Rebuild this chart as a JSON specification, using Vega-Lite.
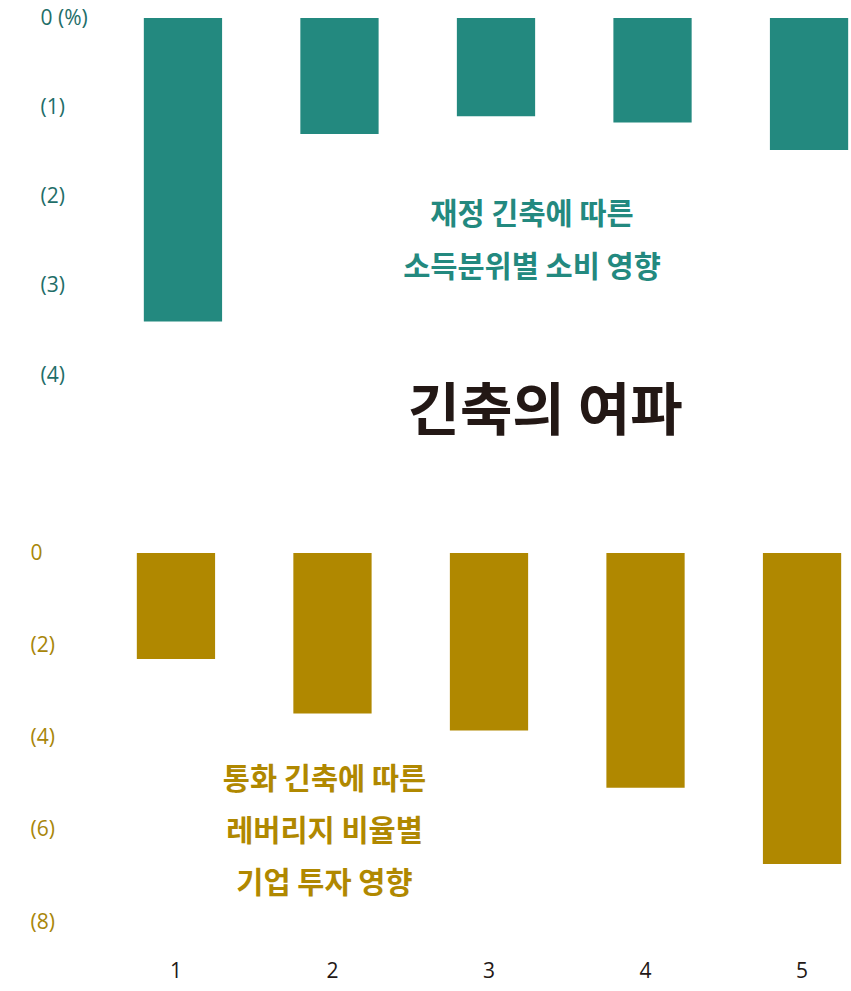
{
  "$schema": "https://vega.github.io/schema/vega-lite/v6.json",
  "background": "white",
  "padding": {"left": 30, "top": 7, "right": 0, "bottom": 10},
  "bounds": "flush",
  "spacing": 178,
  "datasets": {
    "fiscal": [
      {"quintile": "1", "change": -3.4},
      {"quintile": "2", "change": -1.3},
      {"quintile": "3", "change": -1.1},
      {"quintile": "4", "change": -1.17},
      {"quintile": "5", "change": -1.48}
    ],
    "monetary": [
      {"quintile": "1", "change": -2.3},
      {"quintile": "2", "change": -3.48},
      {"quintile": "3", "change": -3.85},
      {"quintile": "4", "change": -5.09},
      {"quintile": "5", "change": -6.74}
    ],
    "fiscalNotes": [
      {"quintile": "3", "change": -2.21, "label": "재정 긴축에 따른"},
      {"quintile": "3", "change": -2.8, "label": "소득분위별 소비 영향"}
    ],
    "headline": [
      {"quintile": "3", "change": -4.43, "label": "긴축의 여파"}
    ],
    "monetaryNotes": [
      {"quintile": "2", "change": -4.92, "label": "통화 긴축에 따른"},
      {"quintile": "2", "change": -6.05, "label": "레버리지 비율별"},
      {"quintile": "2", "change": -7.18, "label": "기업 투자 영향"}
    ]
  },
  "vconcat": [
    {
      "width": 720,
      "height": 357,
      "layer": [
        {
          "data": {"name": "fiscal"},
          "mark": {"type": "bar", "color": "#23897F"},
          "encoding": {
            "x": {
              "field": "quintile",
              "type": "ordinal",
              "scale": {"paddingInner": 0.5, "paddingOuter": 0.05, "range": [7, 727]},
              "axis": null
            },
            "y": {
              "field": "change",
              "type": "quantitative",
              "scale": {"domain": [-4, 0], "nice": false},
              "axis": {
                "values": [0, -1, -2, -3, -4],
                "labelExpr": "datum.value == 0 ? '0 (%)' : '(' + abs(datum.value) + ')'",
                "labelAlign": "left",
                "labelPadding": 89,
                "labelColor": "#1F6E69",
                "labelFontSize": 21,
                "minExtent": 99,
                "maxExtent": 99
              }
            }
          }
        },
        {
          "data": {"name": "fiscalNotes"},
          "mark": {"type": "text", "color": "#23897F", "fontSize": 29.5, "fontWeight": "bold", "font": "Noto Sans CJK KR", "dx": 36},
          "encoding": {
            "x": {"field": "quintile", "type": "ordinal"},
            "y": {"field": "change", "type": "quantitative"},
            "text": {"field": "label"}
          }
        },
        {
          "data": {"name": "headline"},
          "mark": {"type": "text", "color": "#231815", "fontSize": 57, "fontWeight": "bold", "font": "Noto Sans CJK KR", "dx": 49},
          "encoding": {
            "x": {"field": "quintile", "type": "ordinal"},
            "y": {"field": "change", "type": "quantitative"},
            "text": {"field": "label"}
          }
        }
      ]
    },
    {
      "width": 720,
      "height": 369,
      "layer": [
        {
          "data": {"name": "monetary"},
          "mark": {"type": "bar", "color": "#B08800"},
          "encoding": {
            "x": {
              "field": "quintile",
              "type": "ordinal",
              "scale": {"paddingInner": 0.5, "paddingOuter": 0.05},
              "axis": {
                "labelAngle": 0,
                "labelPadding": 38,
                "labelFontSize": 21,
                "labelColor": "#231815"
              }
            },
            "y": {
              "field": "change",
              "type": "quantitative",
              "scale": {"domain": [-8, 0], "nice": false},
              "axis": {
                "values": [0, -2, -4, -6, -8],
                "labelExpr": "datum.value == 0 ? '0' : '(' + abs(datum.value) + ')'",
                "labelAlign": "left",
                "labelPadding": 99,
                "labelColor": "#A8860A",
                "labelFontSize": 21,
                "minExtent": 99,
                "maxExtent": 99
              }
            }
          }
        },
        {
          "data": {"name": "monetaryNotes"},
          "mark": {"type": "text", "color": "#B08800", "fontSize": 29.5, "fontWeight": "bold", "font": "Noto Sans CJK KR", "dx": -8},
          "encoding": {
            "x": {"field": "quintile", "type": "ordinal"},
            "y": {"field": "change", "type": "quantitative"},
            "text": {"field": "label"}
          }
        }
      ]
    }
  ],
  "config": {
    "view": {"stroke": null},
    "font": "Open Sans",
    "axis": {
      "title": null,
      "grid": false,
      "ticks": false,
      "domain": false,
      "labelFont": "Open Sans"
    }
  }
}
